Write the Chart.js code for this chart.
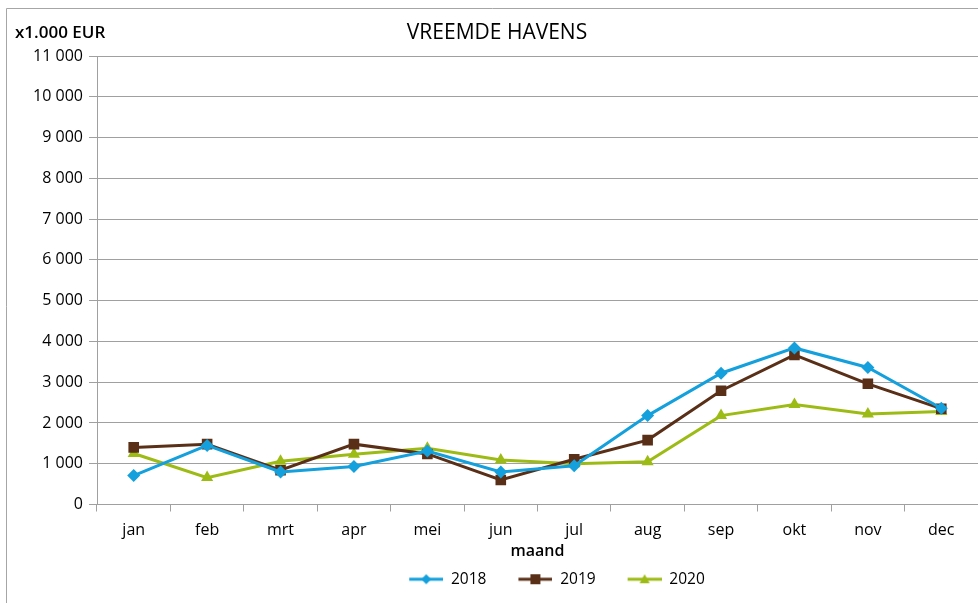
<!DOCTYPE html>
<html>
<head>
<meta charset="utf-8">
<script src="https://cdn.jsdelivr.net/npm/chart.js@4/dist/chart.umd.min.js"></script>
<style>
  html, body { margin: 0; padding: 0; background: #fff; }
  #wrap { position: relative; width: 978px; height: 603px; }
</style>
</head>
<body>
<div id="wrap"><canvas id="c" width="978" height="603"></canvas></div>
<script>
const months = ['jan','feb','mrt','apr','mei','jun','jul','aug','sep','okt','nov','dec'];
const seriesNames = ['2018','2019','2020'];
const values2018 = [710, 1450, 800, 930, 1310, 800, 950, 2180, 3220, 3840, 3360, 2360];
const values2019 = [1400, 1480, 840, 1480, 1240, 600, 1110, 1580, 2790, 3670, 2960, 2350];
const values2020 = [1250, 660, 1060, 1230, 1380, 1090, 1000, 1050, 2180, 2450, 2220, 2280];
const yMax = 11000;
const yStep = 1000;
const chartTitle = 'VREEMDE HAVENS';
const unitLabel = 'x1.000 EUR';
const xTitle = 'maand';

const colors = ['#13a0dc', '#5a2f17', '#9dbb15'];
const styles = ['rectRot', 'rect', 'triangle'];
const radii = [6.5, 7.5, 7];
const FONT = "'Open Sans', sans-serif";

function legendIcon(color, style) {
  const W = 56, H = 16;
  const cv = document.createElement('canvas');
  cv.width = W; cv.height = H;
  const g = cv.getContext('2d');
  const x0 = W - 34, cy = H / 2;
  g.strokeStyle = color; g.lineWidth = 3;
  g.beginPath(); g.moveTo(x0, cy); g.lineTo(W, cy); g.stroke();
  g.fillStyle = color;
  const cx = x0 + 17;
  g.beginPath();
  if (style === 'rect') { g.rect(cx - 5, cy - 5, 10, 10); }
  else if (style === 'rectRot') { g.moveTo(cx, cy - 5); g.lineTo(cx + 5, cy); g.lineTo(cx, cy + 5); g.lineTo(cx - 5, cy); g.closePath(); }
  else { g.moveTo(cx, cy - 5); g.lineTo(cx + 5, cy + 4); g.lineTo(cx - 5, cy + 4); g.closePath(); }
  g.fill();
  return cv;
}

const fmt = v => String(v).replace(/\B(?=(\d{3})+(?!\d))/g, ' ');

const decor = {
  id: 'decor',
  afterLayout(chart) {
    const lg = chart.legend;
    if (lg) { lg.left += 57; lg.right += 57; }
  },
  afterDraw(chart) {
    const ctx = chart.ctx;
    ctx.save();
    ctx.strokeStyle = '#a6a6a6'; ctx.lineWidth = 1;
    ctx.beginPath();
    ctx.moveTo(6.5, 1000); ctx.lineTo(6.5, 8.5); ctx.lineTo(1000, 8.5);
    ctx.stroke();
    ctx.fillStyle = '#000';
    ctx.textBaseline = 'middle';
    ctx.textAlign = 'center';
    ctx.font = "21px " + FONT;
    ctx.fillText(chartTitle, 497, 33);
    ctx.textAlign = 'left';
    ctx.font = "600 17px " + FONT;
    ctx.fillText(unitLabel, 15, 33);
    ctx.restore();
  }
};

const datasets = [values2018, values2019, values2020].map((d, i) => ({
  label: seriesNames[i],
  data: d,
  borderColor: colors[i],
  backgroundColor: colors[i],
  borderWidth: 3,
  pointStyle: styles[i],
  pointRadius: radii[i],
  pointHoverRadius: radii[i],
  pointBorderWidth: 0,
  tension: 0
}));

new Chart(document.getElementById('c'), {
  type: 'line',
  data: { labels: months, datasets },
  options: {
    responsive: false,
    animation: false,
    layout: { autoPadding: false, padding: { top: 56, left: 0, right: 0, bottom: 6 } },
    plugins: {
      title: { display: false },
      tooltip: { enabled: false },
      legend: {
        position: 'bottom',
        labels: {
          usePointStyle: true,
          pointStyleWidth: 56,
          boxHeight: 15,
          padding: 10,
          color: '#000',
          font: { family: FONT, size: 15.5 },
          generateLabels(chart) {
            return chart.data.datasets.map((ds, i) => ({
              text: ds.label,
              pointStyle: legendIcon(colors[i], styles[i]),
              fillStyle: colors[i],
              strokeStyle: colors[i],
              lineWidth: 0,
              hidden: false,
              datasetIndex: i,
              fontColor: '#000'
            }));
          }
        }
      }
    },
    scales: {
      x: {
        offset: true,
        grid: { display: true, drawOnChartArea: false, drawTicks: true, tickLength: 7, color: '#a0a0a0', offset: true },
        border: { color: '#a0a0a0', width: 1 },
        ticks: { color: '#000', font: { family: FONT, size: 16 }, padding: 9 },
        title: { display: true, text: xTitle, color: '#000', font: { family: FONT, size: 16, weight: '600' }, padding: { top: 0, bottom: 0 } },
        afterFit(s) { s.height = 57; s.paddingLeft = 0; s.paddingRight = 0; }
      },
      y: {
        min: 0, max: yMax,
        grid: { color: '#a0a0a0', tickLength: 8 },
        border: { color: '#a0a0a0', width: 1 },
        ticks: { stepSize: yStep, color: '#000', font: { family: FONT, size: 16 }, padding: 6, callback: v => fmt(v) },
        afterFit(s) { s.width = 97; }
      }
    }
  },
  plugins: [decor]
});
</script>
</body>
</html>
